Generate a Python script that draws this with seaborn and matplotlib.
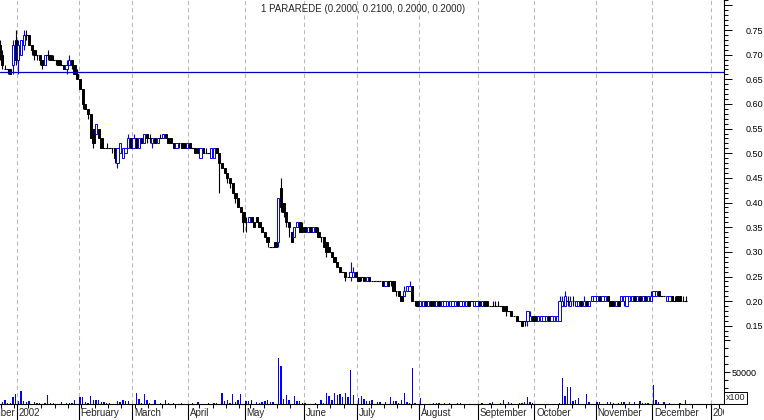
import numpy as np
import pandas as pd
import matplotlib
matplotlib.use("Agg")
import matplotlib.pyplot as plt
from matplotlib.ticker import FixedLocator, MultipleLocator, FixedFormatter, NullFormatter
import seaborn as sns

sns.set_style("white")
plt.rcParams["font.family"] = ["Liberation Sans", "DejaVu Sans"]

# ---------------- data ----------------
title = "1 PARAREDE (0.2000, 0.2100, 0.2000, 0.2000)"
first_day = "2001-12-21"
holidays = ["2002-04-01", "2002-05-01"]
ref_level = 0.665

# prices in cents, one entry per trading day (Dec-2001 .. 18-Dec-2002)
open_c = [72, 70, 67, 67, 67, 68, 73,
          69, 70, 72, 74, 74, 72, 71, 70, 70, 69, 68, 70, 70, 69, 69, 69, 68, 68, 67, 68, 69, 68, 66,
          65, 63, 60, 59, 58, 55, 54, 55, 53, 51, 51, 51, 51, 51, 48, 50, 49, 50, 51, 53,
          51, 53, 51, 53, 52, 54, 53, 52, 53, 52, 53, 53, 54, 53, 53, 52, 51, 52, 52, 52, 51,
          52, 51, 51, 51, 49, 51, 50, 50, 49, 49, 51, 50, 48, 47, 46, 45, 44, 42, 41, 39, 38,
          36, 36, 37, 36, 37, 36, 35, 34, 33, 31, 31, 32, 32, 43, 40, 38, 36, 34, 33, 35, 36, 35,
          35, 34, 35, 34, 35, 34, 33, 33, 32, 31, 30, 29, 28, 27, 26, 26, 25, 25, 25, 26,
          25, 25, 25, 24, 25, 24, 24, 24, 24, 24, 23, 24, 24, 24, 22, 22, 21, 21, 22, 22, 23, 20, 20,
          19, 19, 20, 19, 20, 20, 19, 20, 19, 19, 19, 19, 19, 19, 20, 19, 19, 19, 20, 20, 19, 19,
          20, 19, 20, 20, 19, 19, 19, 19, 19, 19, 19, 18, 18, 17, 17, 16, 16, 16, 16, 16, 17,
          17, 16, 16, 16, 16, 17, 16, 16, 16, 16, 19, 19, 20, 19, 20, 19, 19, 20, 19, 20, 19, 20, 20,
          20, 21, 20, 20, 21, 20, 20, 19, 20, 20, 20, 19, 20, 20, 21, 20, 21, 20, 21, 20, 20,
          21, 21, 22, 21, 21, 20, 20, 21, 20, 21, 21, 20, 20]
high_c = [73, 71, 68, 67, 67, 73, 75,
          73, 73, 75, 75, 74, 72, 71, 70, 70, 69, 70, 71, 70, 70, 69, 69, 69, 68, 69, 70, 69, 68, 67,
          65, 63, 60, 59, 58, 55, 56, 55, 53, 51, 52, 51, 51, 51, 51, 52, 51, 51, 54, 53,
          54, 53, 53, 53, 54, 54, 54, 53, 53, 53, 54, 54, 54, 53, 53, 52, 52, 52, 52, 52, 52,
          52, 51, 51, 51, 51, 51, 51, 50, 51, 51, 51, 50, 48, 47, 46, 45, 44, 42, 41, 39, 38,
          37, 37, 37, 36, 37, 36, 35, 34, 33, 31, 31, 32, 41, 45, 40, 38, 36, 34, 35, 36, 36, 36,
          35, 35, 35, 35, 35, 35, 33, 33, 32, 31, 30, 29, 28, 27, 26, 26, 25, 28, 27, 26,
          25, 25, 25, 25, 25, 24, 24, 24, 24, 24, 24, 24, 24, 24, 22, 22, 21, 23, 23, 24, 23, 20, 20,
          20, 20, 20, 20, 20, 20, 20, 20, 20, 20, 20, 20, 20, 20, 20, 20, 20, 20, 20, 20, 20, 20,
          20, 20, 20, 20, 19, 20, 20, 20, 19, 19, 19, 18, 18, 17, 17, 16, 16, 16, 18, 18, 17,
          17, 17, 17, 17, 17, 17, 17, 17, 17, 21, 21, 22, 21, 21, 21, 20, 20, 20, 21, 20, 20, 21, 21,
          21, 21, 21, 21, 21, 20, 20, 20, 20, 21, 21, 21, 21, 21, 21, 21, 21, 21, 21, 21, 22,
          22, 22, 22, 21, 21, 21, 21, 21, 21, 21, 21, 21, 21]
low_c = [69, 67, 67, 66, 66, 66, 68,
         66, 70, 71, 73, 72, 70, 69, 69, 68, 67, 68, 69, 69, 69, 68, 68, 68, 67, 66, 68, 67, 66, 65,
         63, 59, 59, 57, 53, 51, 54, 53, 51, 51, 51, 51, 50, 48, 47, 50, 49, 50, 51, 51,
         51, 51, 51, 52, 52, 52, 52, 51, 52, 52, 53, 53, 53, 52, 52, 51, 51, 51, 51, 51, 51,
         51, 51, 50, 50, 49, 50, 50, 50, 49, 49, 50, 42, 47, 46, 44, 43, 42, 40, 39, 38, 34,
         34, 36, 36, 35, 36, 35, 34, 33, 31, 31, 31, 31, 31, 38, 37, 35, 33, 32, 33, 35, 34, 34,
         34, 34, 34, 34, 34, 33, 32, 31, 29, 30, 29, 28, 27, 26, 26, 24, 25, 24, 25, 25,
         24, 24, 24, 24, 24, 24, 24, 24, 24, 23, 23, 23, 23, 22, 21, 21, 20, 21, 22, 22, 20, 19, 19,
         19, 19, 19, 19, 19, 19, 19, 19, 19, 19, 19, 19, 19, 19, 19, 19, 19, 19, 19, 20, 19, 19,
         19, 19, 19, 19, 19, 19, 19, 19, 19, 18, 17, 18, 17, 17, 16, 16, 15, 15, 15, 16, 16,
         16, 16, 16, 16, 16, 16, 16, 16, 16, 16, 19, 19, 19, 19, 19, 19, 19, 19, 19, 19, 19, 20, 20,
         20, 20, 20, 20, 20, 19, 19, 19, 19, 20, 19, 19, 20, 20, 20, 20, 20, 20, 20, 20, 20,
         21, 21, 21, 21, 21, 20, 20, 20, 20, 20, 20, 20, 20]
close_c = [70, 68, 67, 67, 66, 72, 69,
           72, 73, 74, 74, 72, 71, 70, 70, 69, 68, 70, 70, 69, 69, 69, 68, 68, 67, 68, 69, 68, 66, 65,
           63, 60, 59, 58, 53, 52, 56, 53, 51, 51, 51, 51, 51, 49, 51, 52, 51, 51, 53, 51,
           53, 51, 53, 52, 54, 53, 53, 53, 52, 53, 53, 54, 53, 52, 52, 51, 52, 52, 51, 51, 52,
           51, 51, 50, 50, 51, 50, 50, 50, 51, 51, 50, 48, 47, 46, 45, 44, 42, 41, 39, 38, 36,
           36, 37, 36, 35, 36, 35, 34, 33, 32, 31, 31, 31, 41, 39, 38, 36, 35, 32, 35, 36, 34, 34,
           34, 35, 34, 35, 34, 33, 33, 31, 30, 30, 29, 28, 27, 26, 26, 25, 25, 26, 26, 25,
           24, 25, 24, 25, 24, 24, 24, 24, 24, 23, 24, 23, 24, 22, 22, 21, 20, 22, 23, 23, 20, 20, 19,
           20, 20, 19, 20, 19, 19, 20, 19, 20, 20, 20, 20, 20, 20, 19, 20, 20, 20, 19, 20, 20, 20,
           19, 20, 19, 19, 19, 19, 19, 19, 19, 18, 18, 18, 17, 17, 16, 16, 15, 16, 18, 17, 16,
           16, 17, 17, 17, 17, 16, 17, 17, 17, 20, 20, 21, 20, 20, 20, 20, 20, 19, 20, 19, 20, 21, 21,
           21, 20, 21, 21, 20, 19, 19, 20, 19, 21, 21, 21, 21, 21, 20, 21, 20, 21, 20, 21, 21,
           22, 22, 21, 21, 21, 21, 21, 20, 20, 20, 20, 20, 20]
volume = [0, 3600, 6000, 2000, 2000, 10400, 15600,
          5200, 20300, 5200, 3100, 5200, 0, 3600, 2000, 2000, 0, 2000, 14000, 2000, 2000, 0, 0, 3600, 0, 2000, 2000, 2000, 6000, 0,
          11400, 11400, 3600, 2000, 12500, 6200, 6200, 6200, 3600, 3600, 2000, 2000, 0, 0, 4700, 3600, 6200, 5200, 5200, 0,
          0, 17700, 7800, 2000, 15600, 6200, 2000, 0, 6200, 0, 2000, 0, 6200, 2000, 0, 2000, 0, 0, 2000, 0, 0,
          0, 2000, 0, 3600, 0, 0, 0, 2000, 0, 2000, 2000, 0, 17700, 5200, 6200, 2000, 15600, 3600, 6200, 15600, 0,
          4700, 4700, 6200, 0, 3600, 2000, 3600, 5200, 6200, 3600, 3600, 0, 71300, 59400, 7800, 14000, 6200, 0, 12500, 4700, 4700, 2000,
          1000, 0, 0, 0, 2000, 0, 6200, 2000, 17700, 12500, 6200, 17700, 14000, 15600, 11400, 17700, 11400, 53100, 14000, 0,
          8800, 12500, 7300, 4700, 4700, 6200, 0, 3600, 3600, 0, 3600, 0, 11500, 5200, 5200, 1000, 6800, 17200, 2600, 1000, 55700, 1000, 0,
          8800, 0, 0, 0, 0, 1000, 1000, 1000, 0, 1000, 0, 1000, 0, 0, 1000, 1000, 0, 0, 0, 0, 0, 0,
          0, 1000, 0, 0, 1000, 2600, 0, 0, 1000, 6800, 0, 3600, 1000, 0, 0, 1000, 1000, 2600, 11500, 3600, 1000,
          0, 0, 0, 0, 0, 0, 0, 0, 0, 1000, 40100, 13000, 26000, 26000, 5200, 6200, 8800, 0, 0, 15600, 3600, 0, 0,
          3600, 3600, 0, 0, 2600, 2600, 1000, 0, 1000, 3600, 2600, 0, 3600, 0, 2600, 0, 5200, 1000, 1000, 1000, 0,
          30200, 6200, 2600, 0, 3600, 0, 1000, 0, 0, 0, 1000, 0, 6200]

price_ticks = [0.15, 0.20, 0.25, 0.30, 0.35, 0.40, 0.45, 0.50, 0.55, 0.60, 0.65, 0.70, 0.75, 0.80]
price_labels = ["0.15", "0.20", "0.25", "0.30", "0.35", "0.40", "0.45", "0.50",
                "0.55", "0.60", "0.65", "0.70", "0.75", ""]
vol_ticks = [50000, 100000]
vol_labels = ["50000", ""]
month_names = ["2002", "February", "March", "April", "May", "June", "July",
               "August", "September", "October", "November", "December"]

# ---------------- calendar / positions ----------------
cal = pd.bdate_range("2001-12-03", "2003-01-31").drop(pd.to_datetime(holidays))
pos = np.arange(len(cal)) - cal.get_loc(pd.Timestamp(first_day))
n = len(close_c)
xd = pos[(pos >= 0)][:n]
month_start = [0] + [i for i in range(1, len(cal)) if cal[i].month != cal[i - 1].month]
mpos = pos[month_start] - 0.5
mlab = [("%d" % cal[i].year) if cal[i].month == 1 else month_names[cal[i].month - 1]
        for i in month_start]
monday = [pos[i] - 0.5 for i in range(len(cal)) if cal[i].weekday() == 0]

o = np.array(open_c) / 100
h = np.array(high_c) / 100
l = np.array(low_c) / 100
c = np.array(close_c) / 100
up, down, flat = c > o, c < o, c == o

BLUE = "#0000ff"
XLIM = (0.156, 270.36)

# ---------------- figure ----------------
W, H = 764, 420
fig = plt.figure(figsize=(W / 100, H / 100), dpi=100)
axp = fig.add_axes([0, 1 - 340 / H, 724 / W, 340 / H])
axv = fig.add_axes([0, 1 - 404 / H, 724 / W, 64 / H])
axd = fig.add_axes([0, 0, 724 / W, 16 / H])

# price candles
wcol = np.where(up, BLUE, "black")
axp.vlines(xd, l, h, colors=wcol, lw=0.8, zorder=2)
axp.bar(xd[down], (o - c)[down], bottom=c[down], width=0.85, color="black",
        edgecolor="black", lw=0.7, zorder=3)
axp.bar(xd[up], (c - o)[up], bottom=o[up], width=0.85, facecolor="white",
        edgecolor=BLUE, lw=0.7, zorder=3)
axp.hlines(o[flat], xd[flat] - 0.5, xd[flat] + 0.5, colors="black", lw=0.8, zorder=3)
axp.axhline(ref_level, color="#0000c8", lw=0.9, zorder=4)

# volume bars (seaborn)
vdf = pd.DataFrame({"x": xd, "volume": volume})
sns.barplot(data=vdf, x="x", y="volume", native_scale=True, color=BLUE, saturation=1,
            width=0.5, linewidth=0, errorbar=None, ax=axv)
axv.set_xlabel("")
axv.set_ylabel("")

for ax in (axp, axv):
    ax.set_xlim(*XLIM)
    for m in mpos:
        ax.axvline(m, color="#b8b8b8", lw=0.75, dashes=(4, 3), zorder=0)
    for s in ("left", "top", "bottom"):
        ax.spines[s].set_visible(False)
    ax.spines["right"].set_color("black")
    ax.spines["right"].set_linewidth(0.8)
    ax.set_xticks([])
    ax.yaxis.tick_right()
    ax.set_facecolor("white")

axv.spines["bottom"].set_visible(True)
axv.spines["bottom"].set_color("black")
axv.spines["bottom"].set_linewidth(0.8)

axp.set_ylim(0.1212, 0.8109)
axp.yaxis.set_major_locator(FixedLocator(price_ticks))
axp.yaxis.set_major_formatter(FixedFormatter(price_labels))
axp.yaxis.set_minor_locator(MultipleLocator(0.01))
axp.tick_params(axis="y", which="major", direction="out", length=5.5, width=0.7,
                pad=10, labelsize=6.5, colors="black")
axp.tick_params(axis="y", which="minor", direction="out", length=2.8, width=0.7, colors="black")

axv.set_ylim(0, 100000)
axv.yaxis.set_major_locator(FixedLocator(vol_ticks))
axv.yaxis.set_major_formatter(FixedFormatter(vol_labels))
axv.yaxis.set_minor_locator(MultipleLocator(12500))
axv.yaxis.set_minor_formatter(NullFormatter())
axv.tick_params(axis="y", which="major", direction="out", length=4, width=0.7,
                pad=1.5, labelsize=6.5, colors="black")
axv.tick_params(axis="y", which="minor", direction="out", length=2.8, width=0.7, colors="black")

# date strip
axd.set_xlim(*XLIM)
axd.set_ylim(0, 1)
axd.axis("off")
axd.vlines(mpos, 0, 1, colors="black", lw=0.8, clip_on=True)
axd.vlines(monday, 0.72, 1, colors="black", lw=0.7, clip_on=True)
for k, (m, lab) in enumerate(zip(mpos, mlab)):
    if m < XLIM[0] and k + 1 < len(mpos) and mpos[k + 1] > XLIM[0]:
        # label of the month that starts before the visible range: ends just before next tick
        axd.text(mpos[k + 1] - 0.6, 0.42, lab, ha="right", va="center", fontsize=7,
                 clip_on=True)
    else:
        axd.text(m + 0.7, 0.42, lab, ha="left", va="center", fontsize=7, clip_on=True)

fig.text(726 / W, 1 - 398 / H, "x100", ha="left", va="center", fontsize=6.5,
         bbox=dict(boxstyle="square,pad=0.2", facecolor="white", edgecolor="black", lw=0.7))
fig.text(363 / W, 1 - 9 / H, title, ha="center", va="center", fontsize=7)

fig.savefig("out.png", dpi=100, facecolor="white")
